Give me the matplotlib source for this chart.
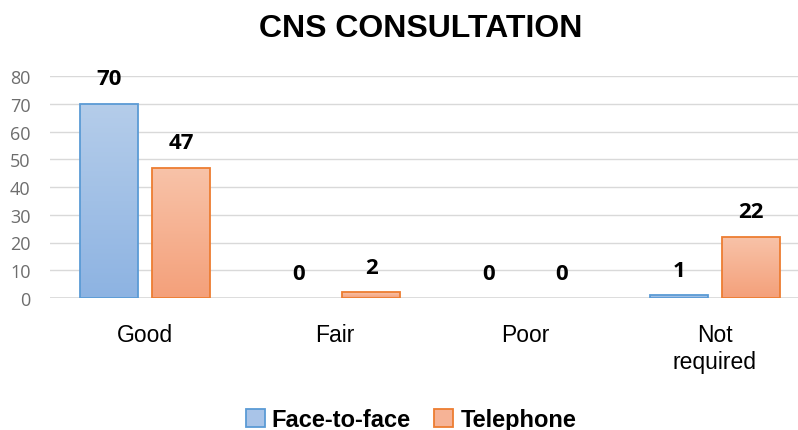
import matplotlib.pyplot as plt
import numpy as np
from matplotlib.colors import LinearSegmentedColormap
from matplotlib.patches import Patch

# data
categories = ['Good', 'Fair', 'Poor', 'Not\nrequired']
face_to_face = [70, 0, 0, 1]
telephone = [47, 2, 0, 22]
series_names = ['Face-to-face', 'Telephone']

fig = plt.figure(figsize=(7.98, 4.31), dpi=100)
ax = fig.add_axes([50 / 798, 132 / 431, 760 / 798, 222 / 431])

x = np.arange(len(categories))
w = 0.305
off = 0.19

blue_cmap = LinearSegmentedColormap.from_list('b', ['#8db3e2', '#b5cdea'])
orange_cmap = LinearSegmentedColormap.from_list('o', ['#f4a07a', '#f8c3a9'])
grad = np.linspace(0, 1, 256).reshape(-1, 1)

bars1 = ax.bar(x - off, face_to_face, w, facecolor='none', edgecolor='#5b9bd5', linewidth=1.3, zorder=3)
bars2 = ax.bar(x + off, telephone, w, facecolor='none', edgecolor='#ed7d31', linewidth=1.3, zorder=3)

for bars, cmap in [(bars1, blue_cmap), (bars2, orange_cmap)]:
    for b in bars:
        h = b.get_height()
        if h <= 0:
            b.set_visible(False)
            continue
        x0 = b.get_x()
        im = ax.imshow(grad, cmap=cmap, origin='lower', aspect='auto',
                       extent=[x0, x0 + b.get_width(), 0, h], zorder=2)
        im.set_clip_path(b)

for bars, vals in [(bars1, face_to_face), (bars2, telephone)]:
    for b, v in zip(bars, vals):
        ax.annotate(str(v), (b.get_x() + b.get_width() / 2, v),
                    xytext=(0, 18), textcoords='offset points',
                    ha='center', va='center', fontsize=16, fontweight='bold',
                    family='Open Sans', color='black')

ax.set_xlim(-0.5, 3.5)
ax.set_ylim(0, 80)
ax.set_yticks(range(0, 81, 10))
ax.set_xticks(x)
ax.set_xticklabels(categories, fontsize=16.5, family='Liberation Sans', linespacing=1.25)
ax.tick_params(axis='x', length=0, pad=18)
ax.tick_params(axis='y', length=0, pad=14, labelsize=13, labelcolor='#6d6d6d')
for t in ax.get_yticklabels():
    t.set_family('Open Sans')
ax.grid(axis='y', color='#d9d9d9', linewidth=1, zorder=0)
for s in ax.spines.values():
    s.set_visible(False)
ax.axhline(0, color='#d9d9d9', linewidth=1.2, zorder=1)

fig.text(421 / 798, 1 - 29 / 431, 'CNS CONSULTATION', ha='center', va='center',
         fontsize=23, fontweight='bold', family='Liberation Sans')

handles = [Patch(facecolor='#a9c4e8', edgecolor='#5b9bd5', linewidth=1.3),
           Patch(facecolor='#f6b396', edgecolor='#ed7d31', linewidth=1.3)]
leg = fig.legend(handles, series_names, loc='center', bbox_to_anchor=(411 / 798, 1 - 421 / 431),
                 ncol=2, frameon=False, handlelength=0.8, handleheight=0.8,
                 handletextpad=0.3, columnspacing=1.0,
                 prop={'family': 'Liberation Sans', 'weight': 'bold', 'size': 17})

fig.savefig('out.png', dpi=100)
